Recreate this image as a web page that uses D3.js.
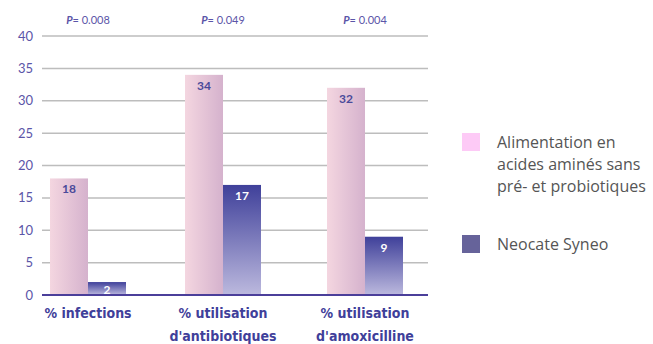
<!DOCTYPE html>
<html>
<head>
<meta charset="utf-8">
<script src="https://cdn.jsdelivr.net/npm/d3@7"></script>
<style>
  body { margin: 0; background: #fff; }
  svg { display: block; }
</style>
</head>
<body>
<div id="chart"></div>
<script>
const categories = ['infections', 'antibiotiques', 'amoxicilline']
const catLabels = [['% infections'], ['% utilisation', "d'antibiotiques"], ['% utilisation', "d'amoxicilline"]]
const controlValues = [18, 34, 32]
const syneoValues = [2, 17, 9]
const pValues = ['0.008', '0.049', '0.004']
const yTicks = [0, 5, 10, 15, 20, 25, 30, 35, 40]
const legendLabels = [['Alimentation en', 'acides aminés sans', 'pré- et probiotiques'], ['Neocate Syneo']]

const width = 653
const height = 344
const plot = {left: 42, right: 428, top: 36, bottom: 295}
const barW = 38

const svg = d3.select('#chart').append('svg')
  .attr('width', width)
  .attr('height', height)

const defs = svg.append('defs')
const pink = defs.append('linearGradient').attr('id', 'pink')
  .attr('x1', 0).attr('x2', 1).attr('y1', 0).attr('y2', 0)
pink.append('stop').attr('offset', 0).attr('stop-color', '#f4d6e0')
pink.append('stop').attr('offset', 1).attr('stop-color', '#d5b2cd')

const blue = defs.append('linearGradient').attr('id', 'blue')
  .attr('x1', 0).attr('x2', 0).attr('y1', 0).attr('y2', 1)
blue.append('stop').attr('offset', 0).attr('stop-color', '#3f409a')
blue.append('stop').attr('offset', 1).attr('stop-color', '#bcb9de')

// group centres are not evenly spaced in the original
const x = d3.scaleOrdinal().domain(categories).range([88, 223, 365])
const y = d3.scaleLinear().domain([0, 40]).range([plot.bottom, plot.top])

// grid
svg.append('g')
  .selectAll('line')
  .data(yTicks.filter(d => d > 0))
  .join('line')
  .attr('x1', plot.left)
  .attr('x2', plot.right)
  .attr('y1', d => y(d))
  .attr('y2', d => y(d))
  .attr('stroke', '#bdbdbd')
  .attr('stroke-width', 1.5)

// y labels
svg.append('g')
  .selectAll('text')
  .data(yTicks)
  .join('text')
  .attr('x', 33)
  .attr('y', d => y(d))
  .attr('dy', '0.35em')
  .attr('text-anchor', 'end')
  .attr('font-family', 'Lato, sans-serif')
  .attr('font-size', 13)
  .attr('fill', '#5b55a8')
  .text(d => d)

// bars
const groups = svg.append('g')
  .selectAll('g')
  .data(categories)
  .join('g')

groups.append('rect')
  .attr('x', d => x(d) - barW)
  .attr('y', (d, i) => y(controlValues[i]))
  .attr('width', barW)
  .attr('height', (d, i) => y(0) - y(controlValues[i]))
  .attr('fill', 'url(#pink)')

groups.append('rect')
  .attr('x', d => x(d))
  .attr('y', (d, i) => y(syneoValues[i]))
  .attr('width', barW)
  .attr('height', (d, i) => y(0) - y(syneoValues[i]))
  .attr('fill', 'url(#blue)')

groups.append('text')
  .attr('x', d => x(d) - barW / 2)
  .attr('y', (d, i) => y(controlValues[i]) + 15)
  .attr('text-anchor', 'middle')
  .attr('font-family', 'Lato, sans-serif')
  .attr('font-weight', 'bold')
  .attr('font-size', 12)
  .attr('fill', '#4a4a9a')
  .text((d, i) => controlValues[i])

groups.append('text')
  .attr('x', d => x(d) + barW / 2)
  .attr('y', (d, i) => Math.min(y(syneoValues[i]) + 15, y(0) - 1))
  .attr('text-anchor', 'middle')
  .attr('font-family', 'Lato, sans-serif')
  .attr('font-weight', 'bold')
  .attr('font-size', 12)
  .attr('fill', '#fff')
  .text((d, i) => syneoValues[i])

// p values
const pText = groups.append('text')
  .attr('x', d => x(d))
  .attr('y', 24)
  .attr('text-anchor', 'middle')
  .attr('font-family', 'Lato, sans-serif')
  .attr('font-size', 11)
  .attr('fill', '#5b55a8')
pText.append('tspan').attr('font-weight', 'bold').attr('font-style', 'italic').text('P')
pText.append('tspan').text((d, i) => '= ' + pValues[i])

// x labels
groups.each(function (d, i) {
  d3.select(this).append('text')
    .attr('text-anchor', 'middle')
    .attr('font-family', '"DejaVu Sans Condensed", sans-serif')
    .attr('font-weight', 'bold')
    .attr('font-size', 14)
    .attr('fill', '#3f409a')
    .selectAll('tspan')
    .data(catLabels[i])
    .join('tspan')
    .attr('x', x(d))
    .attr('y', (t, j) => 318 + j * 23)
    .text(t => t)
})

// baseline
svg.append('line')
  .attr('x1', plot.left)
  .attr('x2', plot.right)
  .attr('y1', y(0))
  .attr('y2', y(0))
  .attr('stroke', '#4b3f9a')
  .attr('stroke-width', 2)

// legend
const legendColors = ['#fdcaf6', '#66639a']
const legendY = [133, 235]
const legend = svg.append('g')
  .selectAll('g')
  .data(legendLabels)
  .join('g')

legend.append('rect')
  .attr('x', 462)
  .attr('y', (d, i) => legendY[i])
  .attr('width', 18)
  .attr('height', 18)
  .attr('fill', (d, i) => legendColors[i])

legend.append('text')
  .attr('font-family', '"Open Sans", sans-serif')
  .attr('font-size', 16)
  .attr('fill', '#555')
  .each(function (lines, i) {
    d3.select(this).selectAll('tspan')
      .data(lines)
      .join('tspan')
      .attr('x', 497)
      .attr('y', (t, j) => legendY[i] + 15 + j * 22)
      .text(t => t)
  })
</script>
</body>
</html>
